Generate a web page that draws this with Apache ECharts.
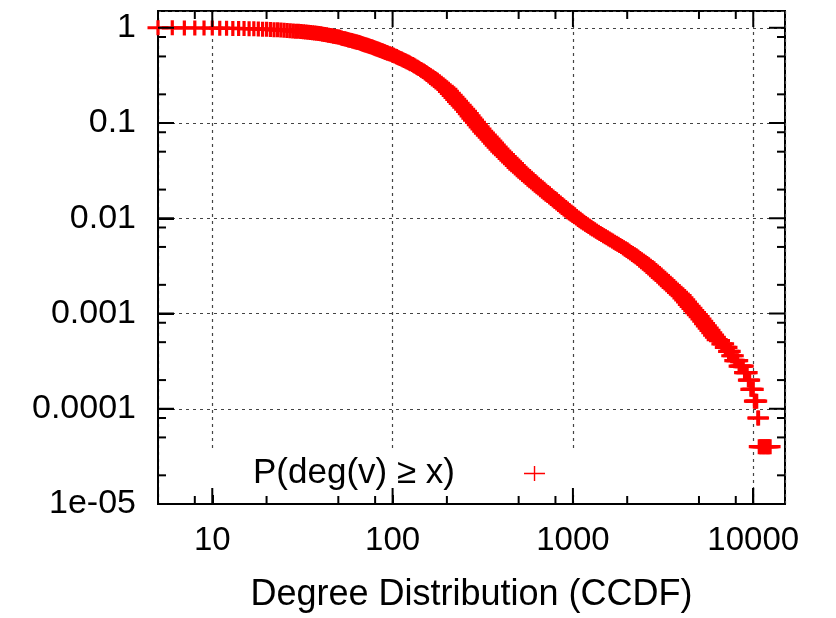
<!DOCTYPE html>
<html><head><meta charset="utf-8">
<script src="https://cdn.jsdelivr.net/npm/echarts@6/dist/echarts.min.js"></script>
<style>html,body{margin:0;padding:0;background:#fff}#c{width:836px;height:618px}</style>
</head><body><div id="c"></div>
<script>
// ---- data (degree x, P(deg >= x)) ----
const degreeX = [5,6,7,8,9,10,11,12,13,14,15,16,17,18,19,20,21,22,23,24,25,26,27,28,29,30,31,32,33,34,35,36,37,38,39,40,
41,43,44,46,47,49,51,52,54,56,58,60,62,65,67,69,72,74,77,79,82,85,88,91,94,98,101,105,108,112,116,120,124,129,133,138,143,148,153,158,166,174,182,191,200,209,219,229,240,251,263,275,288,302,316,331,347,363,380,398,417,437,457,479,501,525,550,575,603,631,661,692,724,759,794,832,871,912,955,1000,1047,1096,1148,1202,1259,1318,1380,1445,1514,1585,1660,1738,1820,1905,1995,2089,2188,2291,2399,2512,2630,2754,2884,3020,3162,3311,3467,3631,3802,3981,4169,4365,4571,4786,5012,5248,5495,5754,6026,6310,
6500,6700,6850,7000,7150,7300,7450,7600,7750,7900,8050,8200,8350,8500,8650,8800,8950,9100,9250,9400,9550,9700,9850,10000,10150,10300,10450,10600,10700,10800,11000,11200,11400,11600,11800,12000,12200,12400,
42,45,48,50,53,55,57,59,61,63,64,66,68,70,71,73,75,76,78,80,81,83,84,86,87,89,90,92,93,96,100,103,106,110,114,118,122,126,131,136,140,145,150,155,162,170,178,186,195,204,214,224,234,245,257,269,281,295,309,323,339,355,371,389,407,427,447,468,490,513,537,562,589,617,646,676,708,741,776,813,851,891,933,977,1023,1071,1122,1175,1230,1288,1349,1413,1479,1549,1622,1698,1778,1862,1950,2042,2138,2239,2344,2455,2570,2692,2818,2951,3090,3236,3388,3548,3715,3890,4074,4266,4467,4677,4898,5129,5370,5623,5888,6166];
const ccdfY = [1.000,0.998,0.996,0.995,0.994,0.993,0.990,0.987,0.985,0.982,0.980,0.978,0.974,0.971,0.967,0.964,0.960,0.955,0.951,0.946,0.942,0.937,0.933,0.927,0.922,0.917,0.913,0.908,0.901,0.896,0.891,0.884,0.880,0.874,0.869,0.864,
0.855,0.845,0.835,0.825,0.815,0.806,0.794,0.780,0.767,0.753,0.740,0.727,0.714,0.700,0.685,0.670,0.656,0.642,0.628,0.614,0.599,0.584,0.569,0.555,0.541,0.528,0.514,0.498,0.483,0.469,0.454,0.441,0.427,0.412,0.396,0.380,0.365,0.351,0.338,0.324,0.302,0.281,0.261,0.243,0.226,0.205,0.186,0.169,0.1536,0.1395,0.1254,0.1128,0.1015,0.0912,0.0820,0.0745,0.0677,0.0614,0.0558,0.0507,0.0465,0.0426,0.0390,0.0358,0.0328,0.0304,0.0281,0.0260,0.0241,0.0223,0.0208,0.0193,0.0180,0.0167,0.01554,0.01446,0.01345,0.01252,0.01164,0.01083,0.01017,0.00955,0.00897,0.00843,0.00792,0.00751,0.00712,0.00675,0.00640,0.00607,0.00576,0.00546,0.00518,0.00491,0.00466,0.00437,0.00411,0.00386,0.00362,0.00340,0.00315,0.00292,0.00270,0.00250,0.00231,0.00213,0.00196,0.00181,0.00167,0.00154,0.00139,0.00125,0.00113,0.00102,0.000926,0.000829,0.000742,0.000664,0.000594,0.000532,
0.00052,0.00048,0.00048,0.00044,0.00044,0.0004,0.0004,0.00036,0.00036,0.00032,0.00032,0.00032,0.00028,0.00028,0.00028,0.00028,0.00024,0.00024,0.00024,0.0002,0.0002,0.00016,0.00016,0.00016,0.00012,0.00012,0.00012,0.00008,0.00008,0.00004,0.00004,0.00004,0.00004,0.00004,0.00004,0.00004,0.00004,0.00004,
0.850,0.830,0.810,0.800,0.773,0.760,0.746,0.733,0.720,0.709,0.704,0.692,0.677,0.665,0.660,0.649,0.637,0.633,0.621,0.609,0.604,0.594,0.589,0.579,0.574,0.564,0.560,0.550,0.546,0.534,0.518,0.506,0.491,0.476,0.461,0.447,0.434,0.420,0.404,0.388,0.373,0.358,0.345,0.331,0.313,0.291,0.271,0.252,0.234,0.215,0.195,0.177,0.161,0.1464,0.1322,0.1189,0.1070,0.0962,0.0865,0.0782,0.0710,0.0645,0.0585,0.0532,0.0486,0.0445,0.0408,0.0374,0.0343,0.0316,0.0292,0.0270,0.0250,0.0232,0.0215,0.0200,0.0186,0.0173,0.0161,0.0150,0.01395,0.01298,0.01207,0.01123,0.0105,0.00986,0.00926,0.00870,0.00817,0.00771,0.00731,0.00693,0.00657,0.00623,0.00591,0.00561,0.00532,0.00504,0.00478,0.00451,0.00424,0.00398,0.00374,0.00351,0.00327,0.00303,0.00281,0.00260,0.00240,0.00222,0.00204,0.00188,0.00174,0.00160,0.00146,0.00132,0.00119,0.00107,0.000973,0.000876,0.000784,0.000703,0.000628,0.000563];
const xTickLabels = ['10','100','1000','10000'];                   // at 10^1 .. 10^4
const yTickLabels = ['1e-05','0.0001','0.001','0.01','0.1','1'];   // at 10^-5 .. 10^0
const xMajorTicks = [10,100,1000,10000];
const yMajorTicks = [1e-4,1e-3,0.01,0.1,1];
const xMinorTicks = [8,20,50,80,200,500,800,2000,5000,8000];
const yMinorTicks = [2e-5,5e-5,8e-5,2e-4,5e-4,8e-4,0.002,0.005,0.008,0.02,0.05,0.08,0.2,0.5,0.8];
const xRange = [5, 15000];
const yRange = [1e-5, 1.5];
const seriesName = 'P(deg(v) \u2265 x)';
const xTitle = 'Degree Distribution (CCDF)';

// ---- chart ----
const FONT = '"Liberation Sans", Arial, Helvetica, sans-serif';
const plusPath = 'path://M0,5.9H8.9V0H12.1V5.9H21V9.1H12.1V15H8.9V9.1H0Z';
const legendPlus = 'path://M0,6.8H9.8V0H11.2V6.8H21V8.2H11.2V15H9.8V8.2H0Z';
const blackLine = () => ({color:'#000', width:2});
const gridLine = () => ({show:true, lineStyle:{color:'#444', width:1.2, type:[3,4]}});

const chart = echarts.init(document.getElementById('c'));
chart.setOption({
  animation:false,
  backgroundColor:'#fff',
  grid:{left:158, right:51, top:11, bottom:112, show:true, borderColor:'#000', borderWidth:2, backgroundColor:'transparent'},
  xAxis:{
    type:'log', min:xRange[0], max:xRange[1],
    axisLine:{show:true, onZero:false, lineStyle:blackLine()},
    axisTick:{show:true, inside:true, length:16, lineStyle:blackLine()},
    minorTick:{show:false},
    axisLabel:{
      show:true, margin:20, fontFamily:FONT, fontSize:33, color:'#000',
      showMinLabel:false, showMaxLabel:false,
      formatter: v => { const e=Math.round(Math.log10(v)); const t=xTickLabels[e-1];
        return (t!==undefined && Math.abs(Math.log10(v)-e)<1e-6) ? t : ''; }
    },
    splitLine:gridLine(),
    name:xTitle, nameLocation:'middle', nameGap:73,
    nameTextStyle:{fontFamily:FONT, fontSize:36, color:'#000'}
  },
  yAxis:{
    type:'log', min:yRange[0], max:yRange[1],
    axisLine:{show:true, onZero:false, lineStyle:blackLine()},
    axisTick:{show:true, inside:true, length:16, lineStyle:blackLine()},
    minorTick:{show:false},
    axisLabel:{
      show:true, margin:22, fontFamily:FONT, fontSize:34, color:'#000',
      showMinLabel:true, showMaxLabel:false,
      formatter: v => { const e=Math.round(Math.log10(v)); const t=yTickLabels[e+5];
        return (t!==undefined && Math.abs(Math.log10(v)-e)<1e-6) ? t : ''; }
    },
    splitLine:gridLine()
  },
  legend:{
    left:200, top:452, orient:'horizontal', align:'right', icon:legendPlus,
    backgroundColor:'#fff', padding:[4,40,4,53],
    itemWidth:21, itemHeight:15,
    textStyle:{fontFamily:FONT, fontSize:35, color:'#000', lineHeight:30, padding:[0,64,0,0]}
  },
  series:[{
    type:'scatter', name:seriesName,
    symbol:plusPath, symbolSize:[21,15], clip:false,
    itemStyle:{color:'#ff0000', opacity:1},
    emphasis:{disabled:true},
    data: degreeX.map((x,i)=>[x, ccdfY[i]])
  }]
});

// inward tick marks on all four sides, positioned through the chart's own axis scales
const lo = chart.convertToPixel({gridIndex:0}, [xRange[0], yRange[0]]);
const hi = chart.convertToPixel({gridIndex:0}, [xRange[1], yRange[1]]);
const ticks = [];
function seg(x1,y1,x2,y2){
  ticks.push({type:'line', silent:true, z:100,
    shape:{x1:x1, y1:y1, x2:x2, y2:y2}, style:{stroke:'#000', lineWidth:2}});
}
function xTicks(vals, len){
  vals.forEach(v => { const px = chart.convertToPixel({xAxisIndex:0}, v);
    seg(px, lo[1], px, lo[1]-len); seg(px, hi[1], px, hi[1]+len); });
}
function yTicks(vals, len){
  vals.forEach(v => { const py = chart.convertToPixel({yAxisIndex:0}, v);
    seg(lo[0], py, lo[0]+len, py); seg(hi[0], py, hi[0]-len, py); });
}
xTicks(xMajorTicks, 16); xTicks(xMinorTicks, 8);
yTicks(yMajorTicks, 16); yTicks(yMinorTicks, 8);
chart.setOption({graphic:ticks});
</script></body></html>
